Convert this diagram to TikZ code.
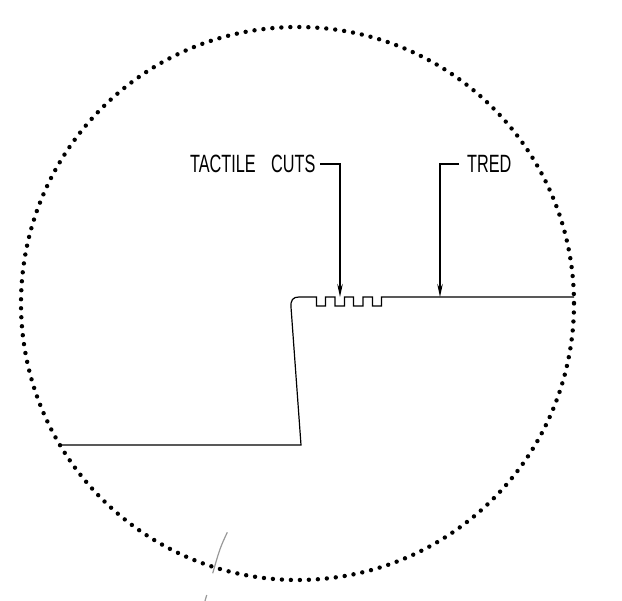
\documentclass[tikz,border=0pt]{standalone}
\usepackage{fontspec}
\setmainfont{Liberation Sans}
\usetikzlibrary{arrows.meta}
\tikzset{
    dotring/.style={line width=4.4pt, line cap=round, dash pattern=on 0pt off 9pt},
    profile/.style={line width=1.2pt},
    leader/.style={line width=1.2pt, -{Stealth[length=13pt,width=5.5pt]}},
    callout/.style={font=\fontsize{25}{25}\selectfont, inner sep=0pt, anchor=west, xscale=.65},
    stray/.style={line width=1.2pt, color=gray!80}
}
\begin{document}
\begin{tikzpicture}[x=1pt,y=-1pt]
    \useasboundingbox (0,0) rectangle (622,601);
    % detail circle
    \draw[dotring] (297.5,303.5) circle (276.5);
    % step profile
    \draw[profile] (61,445) -- (301,445) -- (291,307) .. controls (290.5,300) and (293,297) .. (299,297)
        -- (316.5,297) -- (316.5,306) -- (325.5,306) -- (325.5,297)
        -- (335,297)   -- (335,306)   -- (344.5,306) -- (344.5,297)
        -- (353.5,297) -- (353.5,306) -- (363,306)   -- (363,297)
        -- (372.5,297) -- (372.5,306) -- (381.5,306) -- (381.5,297)
        -- (574,297);
    % labels
    \node[callout] (cuts) at (190,164) {TACTILE\hspace{.95em}CUTS};
    \node[callout] (tred) at (467,164) {TRED};
    \coordinate (cutsbend) at (340,164);
    \coordinate (cutstip)  at (340,297);
    \coordinate (tredbend) at (440,164);
    \coordinate (tredtip)  at (440,297);
    \draw[leader] (320,164) -- (cutsbend) -- (cutstip);
    \draw[leader] (459,164) -- (tredbend) -- (tredtip);
    % stray marks
    \draw[stray] (227.3,532.3) .. controls (220,548) .. (212.7,573.3);
    \draw[stray] (206.7,595) -- (205,601);
\end{tikzpicture}
\end{document}
